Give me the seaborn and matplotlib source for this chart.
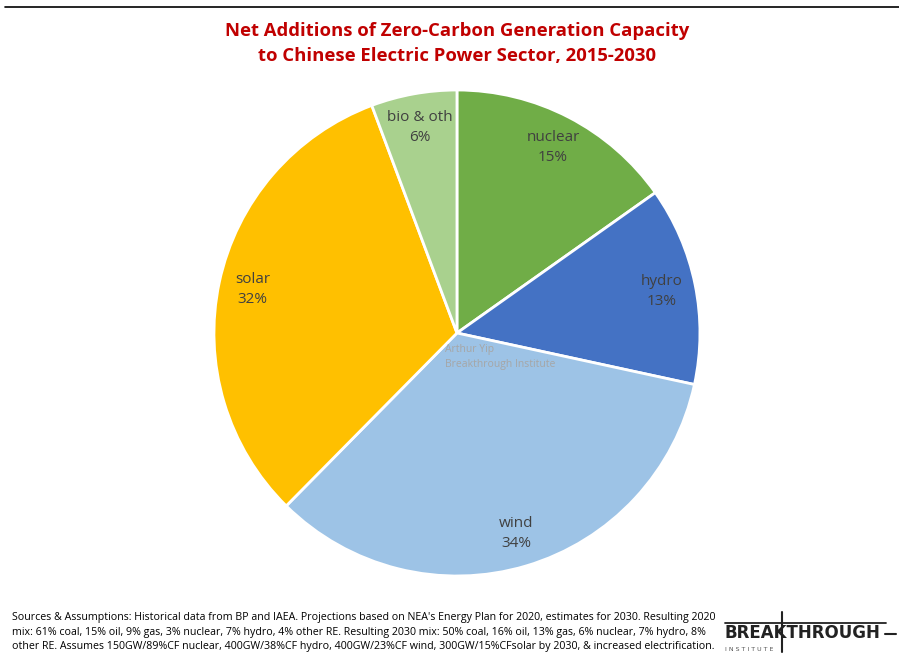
import matplotlib
matplotlib.use("Agg")
import matplotlib.pyplot as plt
from matplotlib.lines import Line2D
import seaborn as sns

categories = ["nuclear", "hydro", "wind", "solar", "bio & oth"]
shares = [15.2, 13.2, 34.0, 31.9, 5.7]
colors = ["#70AD47", "#4472C4", "#9DC3E6", "#FFC000", "#A9D18E"]

title = "Net Additions of Zero-Carbon Generation Capacity\nto Chinese Electric Power Sector, 2015-2030"
footer = ("Sources & Assumptions: Historical data from BP and IAEA. Projections based on NEA's Energy Plan for 2020, estimates for 2030. Resulting 2020\n"
          "mix: 61% coal, 15% oil, 9% gas, 3% nuclear, 7% hydro, 4% other RE. Resulting 2030 mix: 50% coal, 16% oil, 13% gas, 6% nuclear, 7% hydro, 8%\n"
          "other RE. Assumes 150GW/89%CF nuclear, 400GW/38%CF hydro, 400GW/23%CF wind, 300GW/15%CFsolar by 2030, & increased electrification.")

sns.set_theme(style="white")
plt.rcParams['font.family'] = ['Open Sans', 'DejaVu Sans']

fig = plt.figure(figsize=(8.99, 6.57), dpi=100)
ax = fig.add_axes([0.2380, 0.1233, 0.5406, 0.7397])

total = sum(shares)
labels = [f"{c}\n{round(v / total * 100):.0f}%" for c, v in zip(categories, shares)]
wedges, texts = ax.pie(shares, colors=sns.color_palette(colors), startangle=90, counterclock=False,
                       labels=labels, labeldistance=0.86,
                       wedgeprops=dict(edgecolor="white", linewidth=2),
                       textprops=dict(color="#404040", fontsize=11, ha="center", va="center",
                                      linespacing=1.5))
for t in texts:
    t.set_ha("center")
ax.set_xlim(-1, 1)
ax.set_ylim(-1, 1)
ax.set_aspect("equal")

ax.text(-0.05, -0.1, "Arthur Yip\nBreakthrough Institute", color="#a6a6a6", fontsize=7.5,
        ha="left", va="center", linespacing=1.5, transform=ax.transData)

fig.text(0.508, 0.934, title, ha="center", va="center", color="#C00000", fontsize=13.3,
         fontweight="bold", linespacing=1.5)

fig.text(0.013, 0.038, footer, ha="left", va="center", fontsize=7.65, color="black", linespacing=1.4)

# top rule
fig.add_artist(Line2D([0.006, 1.0], [0.989, 0.989], color="black", linewidth=1.2))

# logo
fig.text(0.806, 0.0358, "BREAKTHROUGH", ha="left", va="center", fontsize=12, fontweight="bold",
         color="#222222", family=["DejaVu Sans"])
fig.text(0.807, 0.0107, "I N S T I T U T E", ha="left", va="center", fontsize=4.5, color="#555555",
         family=["DejaVu Sans"])
fig.add_artist(Line2D([0.807, 0.985], [0.0518, 0.0518], color="#222222", linewidth=1.3))
fig.add_artist(Line2D([0.870, 0.870], [0.0076, 0.0685], color="#222222", linewidth=1.5))
fig.add_artist(Line2D([0.984, 0.997], [0.035, 0.035], color="#222222", linewidth=1.5))

fig.savefig("out.png", dpi=100, facecolor="white")
